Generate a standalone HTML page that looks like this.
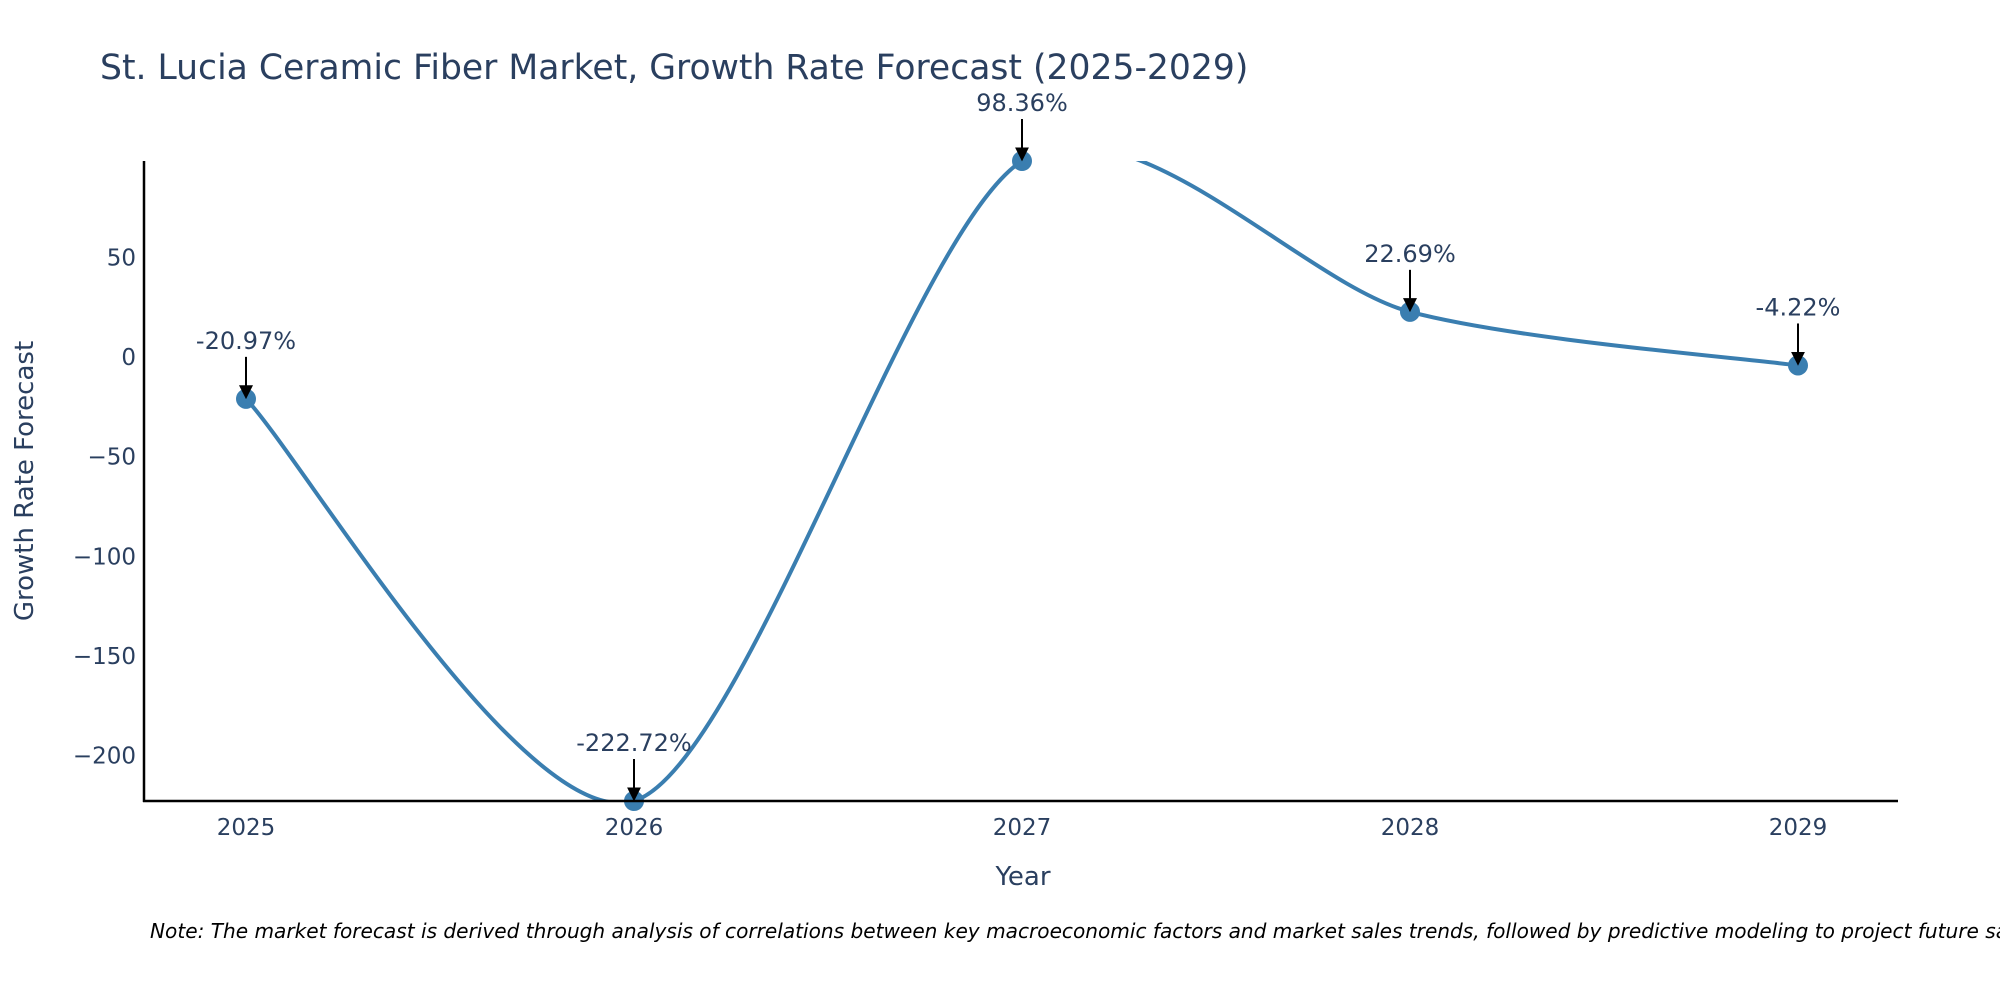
<!DOCTYPE html>
<html><head><meta charset="utf-8"><style>
body{margin:0;background:#fff;}
svg{display:block;font-family:"DejaVu Sans","Liberation Sans",sans-serif;}
</style></head><body>
<svg id="chart" width="2000" height="1000">
<defs>
<clipPath id="clip"><rect x="144" y="161" width="1754" height="640"/></clipPath>
<marker id="ah" markerWidth="14" markerHeight="14" refX="10" refY="6" orient="auto" markerUnits="userSpaceOnUse" viewBox="0 0 12 12"><path d="M0,0 L12,6 L0,12 z" fill="#000"/></marker>
</defs>
<text x="100" y="79" font-size="34.6" fill="#2a3f5f">St. Lucia Ceramic Fiber Market, Growth Rate Forecast (2025-2029)</text>
<g id="yticks"></g><g id="xticks"></g>
<g clip-path="url(#clip)"><path id="line" fill="none" stroke="#3a7eb0" stroke-width="4"/></g>
<g id="pts"></g><g id="ann"></g>
<line x1="144" y1="161" x2="144" y2="802" stroke="#000" stroke-width="2.5"/>
<line x1="143" y1="801" x2="1898" y2="801" stroke="#000" stroke-width="2.5"/>
<text x="1023" y="885" font-size="26" fill="#2a3f5f" text-anchor="middle">Year</text>
<text transform="translate(33,481) rotate(-90)" font-size="26" fill="#2a3f5f" text-anchor="middle">Growth Rate Forecast</text>
<text x="150" y="938" font-size="20.1" font-style="italic" fill="#000">Note: The market forecast is derived through analysis of correlations between key macroeconomic factors and market sales trends, followed by predictive modeling to project future sales.</text>
</svg>
<script>
const years=[2025,2026,2027,2028,2029];
const values=[-20.97,-222.72,98.36,22.69,-4.22];
const labels=["-20.97%","-222.72%","98.36%","22.69%","-4.22%"];
const yTicks=[50,0,-50,-100,-150,-200];
const NS="http://www.w3.org/2000/svg";
const yMin=-222.72,yMax=98.36;
function xs(v){return 246+(v-2025)*388;}
function ys(v){return 161+(yMax-v)/(yMax-yMin)*640;}
function mk(t,a,p){const e=document.createElementNS(NS,t);for(const k in a)e.setAttribute(k,a[k]);p.appendChild(e);return e;}
const yt=document.getElementById('yticks');
yTicks.forEach(t=>{const e=mk('text',{x:136,y:ys(t)+8,'font-size':23,fill:'#2a3f5f','text-anchor':'end'},yt);
e.textContent=t<0?'\u2212'+Math.abs(t):String(t);

});
const xt=document.getElementById('xticks');
years.forEach(y=>{const e=mk('text',{x:xs(y),y:835,'font-size':23,fill:'#2a3f5f','text-anchor':'middle'},xt);
e.textContent=y;

});
const P=years.map((y,i)=>[xs(y),ys(values[i])]);
let d='M'+P[0][0]+','+P[0][1];const s=0.14;
for(let i=0;i<P.length-1;i++){const p0=P[Math.max(i-1,0)],p1=P[i],p2=P[i+1],p3=P[Math.min(i+2,P.length-1)];
const c1=[p1[0]+(p2[0]-p0[0])*s,p1[1]+(p2[1]-p0[1])*s],c2=[p2[0]-(p3[0]-p1[0])*s,p2[1]-(p3[1]-p1[1])*s];
d+=' C'+c1+' '+c2+' '+p2;}
document.getElementById('line').setAttribute('d',d);
const pg=document.getElementById('pts'),ag=document.getElementById('ann');
P.forEach((p,i)=>{const c=mk('circle',{cx:p[0],cy:p[1],r:10,fill:'#3a7eb0'},pg);


const l=mk('line',{x1:p[0],y1:p[1]-42,x2:p[0],y2:p[1]-2,stroke:'#000','stroke-width':2,'marker-end':'url(#ah)'},ag);


const t=mk('text',{x:p[0],y:p[1]-50,'font-size':24,fill:'#2a3f5f','text-anchor':'middle'},ag);
t.textContent=labels[i];

});
</script>
</body></html>
